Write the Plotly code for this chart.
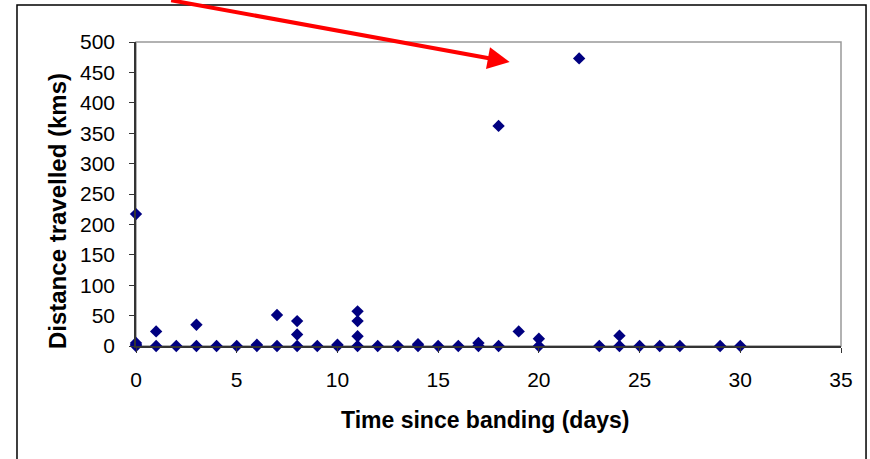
import plotly.graph_objects as go

# Data
days = [0, 0, 0, 0, 1, 1, 2, 3, 3, 4, 5, 6, 6, 7, 7, 8, 8, 8, 9, 10, 10,
        11, 11, 11, 11, 12, 13, 14, 14, 15, 16, 17, 17, 18, 18, 19, 20, 20,
        22, 23, 24, 24, 25, 26, 27, 29, 30]
distance = [217, 0, 2, 5, 24, 0, 0, 35, 0, 0, 0, 0, 2, 51, 0, 41, 19, 0, 0, 0, 2,
            57, 41, 16, 0, 0, 0, 0, 3, 0, 0, 0, 5, 362, 0, 24, 12, 0,
            473, 0, 17, 0, 0, 0, 0, 0, 0]

x_title = "Time since banding (days)"
y_title = "Distance travelled (kms)"

FONT = "Liberation Sans, Arial, sans-serif"

fig = go.Figure()
fig.add_trace(go.Scatter(
    x=days, y=distance, mode="markers",
    marker=dict(symbol="diamond", size=9.5, color="#000080", line=dict(width=0)),
    showlegend=False, cliponaxis=False,
))

fig.update_layout(
    width=870, height=459,
    margin=dict(l=136, r=29, t=42, b=113),
    paper_bgcolor="white", plot_bgcolor="white",
    font=dict(family=FONT, color="black", size=21),
    xaxis=dict(range=[0, 35], dtick=5, tick0=0, showgrid=False, zeroline=False,
               showline=True, linecolor="#333333", linewidth=1.5,
               ticks="outside", ticklen=5, tickcolor="#333333", tickwidth=1.2,
               ticklabelstandoff=9, tickfont=dict(size=21)),
    yaxis=dict(range=[0, 500], dtick=50, tick0=0, showgrid=False, zeroline=False,
               showline=True, linecolor="#333333", linewidth=1.5,
               ticks="outside", ticklen=5, tickcolor="#333333", tickwidth=1.2,
               ticklabelstandoff=10, tickfont=dict(size=21)),
)

# plot-area frame (grey top/right) and outer chart border
fig.add_shape(type="rect", xref="paper", yref="paper", x0=0, x1=1, y0=0, y1=1,
              line=dict(color="#999999", width=1.5), layer="below")
fig.add_shape(type="rect", xref="paper", yref="paper",
              x0=-0.1688, x1=1.0355, y0=-0.45, y1=1.1217,
              line=dict(color="black", width=1.5), layer="above")

# axis titles
fig.add_annotation(text=f"<b>{x_title}</b>", xref="paper", yref="paper",
                   x=0.4957, y=-0.243, showarrow=False,
                   font=dict(size=23, family=FONT), xanchor="center", yanchor="middle")
fig.add_annotation(text=f"<b>{y_title}</b>", xref="paper", yref="paper",
                   x=-0.112, y=0.444, showarrow=False, textangle=-90,
                   font=dict(size=24, family=FONT), xanchor="center", yanchor="middle")

# red arrow
fig.add_annotation(x=18.55, y=467, xref="x", yref="y", text="", showarrow=True,
                   ax=-340, ay=-77, arrowcolor="#ff0000", arrowwidth=4,
                   arrowhead=2, arrowsize=1.1, standoff=0)

fig.write_html("out.html", config={"displayModeBar": False},
               post_script="document.body.style.margin='0';document.body.style.overflow='hidden';")
